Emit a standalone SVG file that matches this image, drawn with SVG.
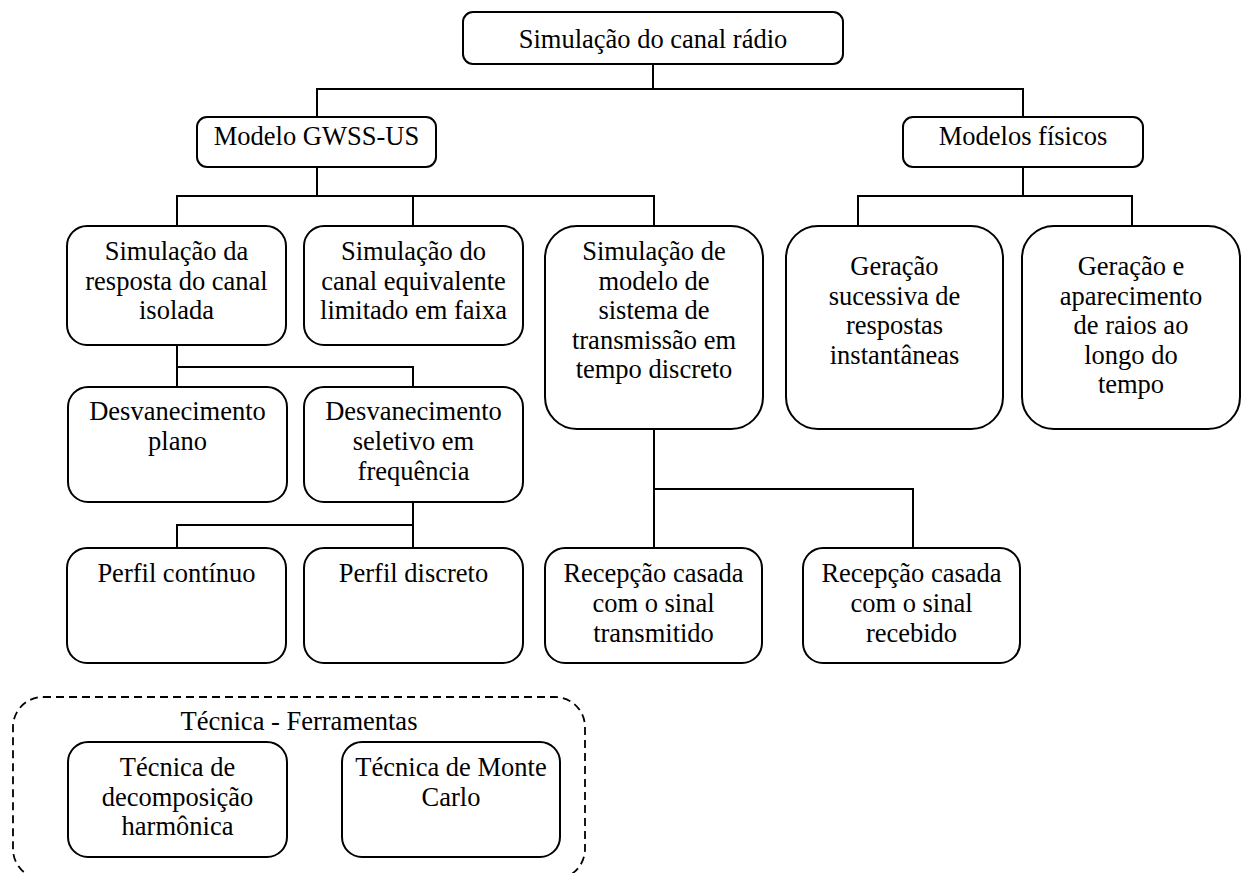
<svg xmlns="http://www.w3.org/2000/svg" width="1246" height="873" viewBox="0 0 1246 873" font-family="'Liberation Serif', 'DejaVu Serif', 'Times New Roman', Times, serif">
  <style>
    .box { fill: #ffffff; stroke: #000000; stroke-width: 2; }
    .group { fill: none; stroke: #000000; stroke-width: 1.8; stroke-dasharray: 8 5; }
    .wire { fill: none; stroke: #000000; stroke-width: 2; }
    text { font-family: 'Liberation Serif', 'DejaVu Serif', 'Times New Roman', Times, serif; font-size: 26.5px; fill: #000000; text-anchor: middle; }
  </style>
  <rect width="1246" height="873" fill="#ffffff"/>

  <!-- tree connectors -->
  <g id="connectors">
    <path class="wire" d="M653,64 V89"/>
    <path class="wire" d="M317,117 V89 H1023 V117"/>
    <path class="wire" d="M317,167 V196"/>
    <path class="wire" d="M177,226 V196 H654 V226"/>
    <path class="wire" d="M413,196 V226"/>
    <path class="wire" d="M1023,167 V196"/>
    <path class="wire" d="M858,226 V196 H1132 V226"/>
    <path class="wire" d="M177,345 V387"/>
    <path class="wire" d="M177,367 H413 V387"/>
    <path class="wire" d="M413,502 V548"/>
    <path class="wire" d="M177,548 V525 H413"/>
    <path class="wire" d="M654,428 V548"/>
    <path class="wire" d="M654,489 H913 V548"/>
  </g>

  <g id="root">
    <rect class="box" x="463" y="12" width="380" height="52" rx="10"/>
    <text x="653" y="48">Simulação do canal rádio</text>
  </g>

  <g id="gwss">
    <rect class="box" x="197" y="117" width="239" height="50" rx="10"/>
    <text x="316.5" y="145">Modelo GWSS-US</text>
  </g>

  <g id="fisicos">
    <rect class="box" x="903" y="117" width="240" height="50" rx="10"/>
    <text x="1023" y="145">Modelos físicos</text>
  </g>

  <g id="sim-resposta">
    <rect class="box" x="67" y="226" width="219" height="119" rx="20"/>
    <text x="176.5" y="260">Simulação da</text>
    <text x="176.5" y="289.5">resposta do canal</text>
    <text x="176.5" y="319">isolada</text>
  </g>

  <g id="sim-canal">
    <rect class="box" x="304" y="226" width="219" height="119" rx="20"/>
    <text x="413.5" y="260">Simulação do</text>
    <text x="413.5" y="289.5">canal equivalente</text>
    <text x="413.5" y="319">limitado em faixa</text>
  </g>

  <g id="sim-modelo">
    <rect class="box" x="545" y="226" width="218" height="203" rx="32"/>
    <text x="654" y="260">Simulação de</text>
    <text x="654" y="289.5">modelo de</text>
    <text x="654" y="319">sistema de</text>
    <text x="654" y="348.5">transmissão em</text>
    <text x="654" y="378">tempo discreto</text>
  </g>

  <g id="geracao-sucessiva">
    <rect class="box" x="786" y="226" width="217" height="203" rx="32"/>
    <text x="894.5" y="275">Geração</text>
    <text x="894.5" y="304.5">sucessiva de</text>
    <text x="894.5" y="334">respostas</text>
    <text x="894.5" y="363.5">instantâneas</text>
  </g>

  <g id="geracao-raios">
    <rect class="box" x="1022" y="226" width="218" height="203" rx="32"/>
    <text x="1131" y="275">Geração e</text>
    <text x="1131" y="304.5">aparecimento</text>
    <text x="1131" y="334">de raios ao</text>
    <text x="1131" y="363.5">longo do</text>
    <text x="1131" y="393">tempo</text>
  </g>

  <g id="desv-plano">
    <rect class="box" x="68" y="387" width="219" height="115" rx="20"/>
    <text x="177.5" y="420">Desvanecimento</text>
    <text x="177.5" y="450">plano</text>
  </g>

  <g id="desv-seletivo">
    <rect class="box" x="304" y="387" width="219" height="115" rx="20"/>
    <text x="413.5" y="420">Desvanecimento</text>
    <text x="413.5" y="450">seletivo em</text>
    <text x="413.5" y="480">frequência</text>
  </g>

  <g id="perfil-continuo">
    <rect class="box" x="67" y="548" width="219" height="115" rx="20"/>
    <text x="176.5" y="582">Perfil contínuo</text>
  </g>

  <g id="perfil-discreto">
    <rect class="box" x="304" y="548" width="219" height="115" rx="20"/>
    <text x="413.5" y="582">Perfil discreto</text>
  </g>

  <g id="recepcao-transmitido">
    <rect class="box" x="545" y="548" width="217" height="115" rx="20"/>
    <text x="653.5" y="582">Recepção casada</text>
    <text x="653.5" y="612">com o sinal</text>
    <text x="653.5" y="642">transmitido</text>
  </g>

  <g id="recepcao-recebido">
    <rect class="box" x="803" y="548" width="217" height="115" rx="20"/>
    <text x="911.5" y="582">Recepção casada</text>
    <text x="911.5" y="612">com o sinal</text>
    <text x="911.5" y="642">recebido</text>
  </g>

  <!-- tools group (its lower edge runs past the bottom of the page) -->
  <g id="ferramentas">
    <rect class="group" x="13" y="697" width="572" height="182" rx="30"/>
    <text x="299" y="730">Técnica - Ferramentas</text>
  </g>

  <g id="decomposicao">
    <rect class="box" x="68" y="742" width="219" height="115" rx="20"/>
    <text x="177.5" y="776">Técnica de</text>
    <text x="177.5" y="805.5">decomposição</text>
    <text x="177.5" y="835">harmônica</text>
  </g>

  <g id="monte-carlo">
    <rect class="box" x="342" y="742" width="218" height="115" rx="20"/>
    <text x="451" y="776">Técnica de Monte</text>
    <text x="451" y="805.5">Carlo</text>
  </g>
</svg>
